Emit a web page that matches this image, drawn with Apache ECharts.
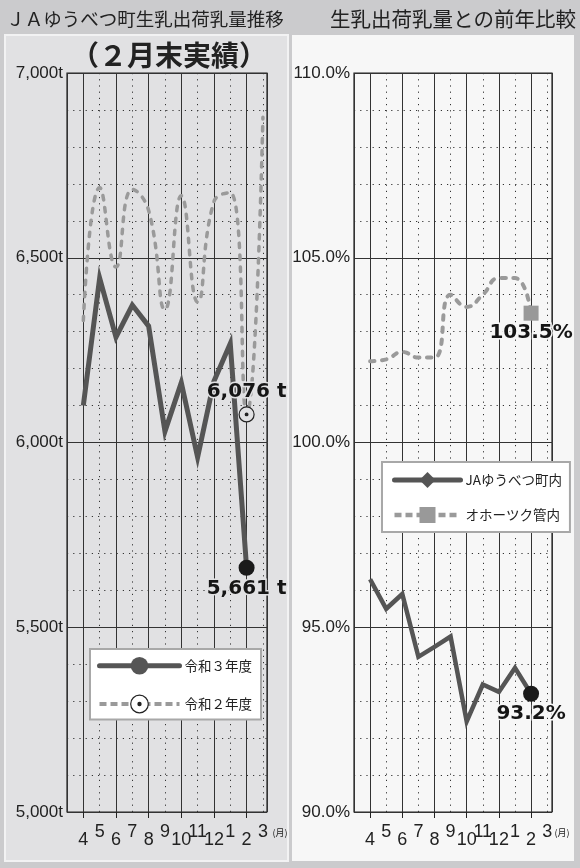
<!DOCTYPE html>
<html><head><meta charset="utf-8">
<script src="https://cdn.jsdelivr.net/npm/echarts@6/dist/echarts.min.js"></script>
<style>html,body{margin:0;padding:0;background:#cbcbcd;}#c{width:580px;height:868px;}</style>
</head><body><div id="c"></div>
<script>
// ---- data ----
const months = ['4','5','6','7','8','9','10','11','12','1','2','3'];
const evenMonthIdx = [0, 2, 4, 6, 8, 10];
const oddMonthIdx = [1, 3, 5, 7, 9, 11];
const r3Name = '令和３年度';
const r2Name = '令和２年度';
const r3Values = [6100, 6445, 6285, 6372, 6315, 6030, 6162, 5960, 6166, 6268, 5661, null];
const r2Values = [6330, 6690, 6475, 6685, 6628, 6360, 6668, 6380, 6652, 6676, 6076, 6880];
const jaName = 'JAゆうべつ町内';
const okhName = 'オホーツク管内';
const jaRatio = [96.3, 95.5, 95.9, 94.2, 94.47, 94.75, 92.45, 93.45, 93.25, 93.9, 93.2, null];
const okhRatio = [102.2, 102.25, 102.45, 102.3, 102.3, 104.0, 103.67, 104.0, 104.45, 104.45, 103.5, null];
const leftTitle = 'ＪＡゆうべつ町生乳出荷乳量推移';
const leftSubTitle = '（２月末実績）';
const rightTitle = '生乳出荷乳量との前年比較';
const monthUnit = '(月)';
const FEB = months.indexOf('2');

// ---- helpers ----
const fmtT = v => v.toLocaleString('en-US') + ' t';
const fmtAxisT = v => v.toLocaleString('en-US') + 't';
const fmtPct = v => v.toFixed(1) + '%';
function pts(values, febExtra) {
  const out = [];
  values.forEach((v, i) => {
    if (v == null) return;
    if (i === FEB) out.push(Object.assign({ value: [i, v] }, febExtra));
    else out.push([i, v]);
  });
  return out;
}

const LEFT_BG = '#e1e1e3', RIGHT_BG = '#f7f7f7';
const RING = 'path://M10,0A10,10,0,1,1,10,20A10,10,0,1,1,10,0ZM10,8.2A1.8,1.8,0,1,1,10,11.8A1.8,1.8,0,1,1,10,8.2ZM10,9.2A0.8,0.8,0,1,1,10,10.8A0.8,0.8,0,1,1,10,9.2Z';
const GRID_LINE = '#333';
const dotted = { show: true, lineStyle: { color: GRID_LINE, width: 1, type: [1.2, 5] } };
const solid = { show: true, lineStyle: { color: GRID_LINE, width: 1, type: 'solid' } };
const tickFont = { fontFamily: 'Liberation Sans, Arial, sans-serif', fontSize: 18, color: '#222' };
const valLabel = (bg) => ({
  show: true, fontFamily: 'DejaVu Sans', fontWeight: 'bold', fontSize: 20, color: '#151515',
  textBorderColor: bg, textBorderWidth: 3
});

function xAxesFor(gridIndex, max) {
  const base = { type: 'value', gridIndex, min: -1, max, position: 'bottom',
    axisLine: { show: false }, axisTick: { show: false }, axisLabel: { show: false }, splitLine: { show: false } };
  return [
    Object.assign({}, base, { interval: 1, splitLine: dotted }),
    Object.assign({}, base, { minInterval: 2, maxInterval: 2, splitNumber: 6, splitLine: solid }),
    Object.assign({}, base, {
      axisTick: { show: true, customValues: evenMonthIdx, length: 6, lineStyle: { color: '#222', width: 1 } },
      axisLabel: Object.assign({ show: true, customValues: evenMonthIdx, margin: 19, formatter: v => months[v] }, tickFont)
    }),
    Object.assign({}, base, {
      axisLabel: Object.assign({ show: true, customValues: oddMonthIdx, margin: 11, formatter: v => months[v] }, tickFont)
    })
  ];
}
function yAxesFor(gridIndex, min, max, minor, major, fmt) {
  const base = { type: 'value', gridIndex, min, max, position: 'left',
    axisLine: { show: false }, axisTick: { show: false }, axisLabel: { show: false } };
  return [
    Object.assign({}, base, { interval: minor, splitLine: dotted }),
    Object.assign({}, base, { interval: major, splitLine: solid,
      axisLabel: { show: true, formatter: fmt, margin: 4, fontFamily: 'Liberation Sans, Arial, sans-serif',
        fontSize: 17, color: '#222', verticalAlign: 'middle', padding: [0, 0, 8, 0] } })
  ];
}

const legendText = { fontFamily: 'Noto Sans CJK JP', fontSize: 13.5, color: '#222' };

const option = {
  animation: false,
  backgroundColor: '#cbcbcd',
  graphic: { elements: [
    { type: 'rect', z: -10, shape: { x: 5, y: 35, width: 283, height: 826 }, style: { fill: LEFT_BG, stroke: '#f2f2f3', lineWidth: 2 } },
    { type: 'rect', z: -10, shape: { x: 292, y: 35, width: 282, height: 826 }, style: { fill: RIGHT_BG } },
    { type: 'text', z: 10, style: { x: 145, y: 19, text: leftTitle, fontSize: 18.5, fontFamily: 'Noto Sans CJK JP', fill: '#222', align: 'center', verticalAlign: 'middle' } },
    { type: 'text', z: 10, style: { x: 576, y: 19, text: rightTitle, fontSize: 20.5, fontFamily: 'Noto Sans CJK JP', fill: '#222', align: 'right', verticalAlign: 'middle' } },
    { type: 'text', z: 10, style: { x: 169, y: 55, text: leftSubTitle, fontSize: 28, fontWeight: 'bold', fontFamily: 'Noto Sans CJK JP', fill: '#222', align: 'center', verticalAlign: 'middle' } },
    { type: 'text', z: 10, style: { x: 280, y: 833, text: monthUnit, fontSize: 9, fontFamily: 'Noto Sans CJK JP', fill: '#222', align: 'center', verticalAlign: 'middle' } },
    { type: 'text', z: 10, style: { x: 562, y: 833, text: monthUnit, fontSize: 9, fontFamily: 'Noto Sans CJK JP', fill: '#222', align: 'center', verticalAlign: 'middle' } }
  ] },
  grid: [
    { left: 67, top: 73, width: 200, height: 739, show: true, borderColor: '#222', borderWidth: 1.2, backgroundColor: 'transparent' },
    { left: 354, top: 73, width: 198, height: 739, show: true, borderColor: '#222', borderWidth: 1.2, backgroundColor: 'transparent' }
  ],
  xAxis: [].concat(xAxesFor(0, 11.25), xAxesFor(1, 11.3)),
  yAxis: [].concat(yAxesFor(0, 5000, 7000, 100, 500, fmtAxisT), yAxesFor(1, 90, 110, 1, 5, fmtPct)),
  legend: [
    { orient: 'vertical', left: 90, top: 649, padding: [8, 9, 6, 7], itemGap: 20, itemWidth: 80, itemHeight: 22,
      backgroundColor: '#ffffff', borderColor: '#a8a8a8', borderWidth: 2, borderRadius: 0,
      textStyle: legendText,
      data: [
        { name: r3Name, lineStyle: { width: 5, cap: 'round', color: '#555', type: 'solid' } },
        { name: r2Name, lineStyle: { width: 4, type: [7, 4], cap: 'butt', color: '#9a9a9a' },
          itemStyle: { borderWidth: 1.2, borderColor: '#222', color: '#ffffff' } }
      ] },
    { orient: 'vertical', left: 382, top: 462, padding: [10, 8, 9, 10], itemGap: 19, itemWidth: 66, itemHeight: 20,
      backgroundColor: '#ffffff', borderColor: '#a8a8a8', borderWidth: 2, borderRadius: 0,
      textStyle: legendText,
      data: [
        { name: jaName, lineStyle: { width: 5, cap: 'round', color: '#555', type: 'solid' } },
        { name: okhName, lineStyle: { width: 4.5, type: [7, 4], cap: 'butt', color: '#9a9a9a' } }
      ] }
  ],
  series: [
    { name: r2Name, type: 'line', xAxisIndex: 0, yAxisIndex: 0, z: 5, smooth: 0.5,
      symbol: RING, symbolSize: 0,
      lineStyle: { color: '#9a9a9a', width: 3.5, type: [4.5, 7.5], cap: 'round' },
      itemStyle: { color: '#ffffff', borderColor: '#222', borderWidth: 1.2 },
      data: pts(r2Values, { symbolSize: 15, itemStyle: { color: LEFT_BG, borderColor: '#222', borderWidth: 1.2 },
        label: Object.assign(valLabel(LEFT_BG), { position: 'top', distance: 5, formatter: p => fmtT(p.value[1]) }) }) },
    { name: r3Name, type: 'line', xAxisIndex: 0, yAxisIndex: 0, z: 4,
      symbol: 'circle', symbolSize: 0,
      lineStyle: { color: '#555', width: 5, join: 'miter' },
      itemStyle: { color: '#555' },
      data: pts(r3Values, { symbolSize: 16, itemStyle: { color: '#1a1a1a' },
        label: Object.assign(valLabel(LEFT_BG), { position: 'bottom', distance: 3, formatter: p => fmtT(p.value[1]) }) }) },
    { name: okhName, type: 'line', xAxisIndex: 4, yAxisIndex: 2, z: 3, smooth: 0.5,
      symbol: 'rect', symbolSize: 0,
      lineStyle: { color: '#9a9a9a', width: 4, type: [4.5, 7.5], cap: 'round' },
      itemStyle: { color: '#999' },
      data: pts(okhRatio, { symbolSize: 15, itemStyle: { color: '#999' },
        label: Object.assign(valLabel(RIGHT_BG), { position: 'bottom', distance: 2, formatter: p => fmtPct(p.value[1]) }) }) },
    { name: jaName, type: 'line', xAxisIndex: 4, yAxisIndex: 2, z: 4,
      symbol: 'diamond', symbolSize: 0,
      lineStyle: { color: '#555', width: 4.5, join: 'miter' },
      itemStyle: { color: '#555' },
      data: pts(jaRatio, { symbol: 'circle', symbolSize: 16, itemStyle: { color: '#1a1a1a' },
        label: Object.assign(valLabel(RIGHT_BG), { position: 'bottom', distance: 2, formatter: p => fmtPct(p.value[1]) }) }) }
  ]
};

const chart = echarts.init(document.getElementById('c'), null, { renderer: 'canvas', width: 580, height: 868 });
chart.setOption(option);
</script>
</body></html>
